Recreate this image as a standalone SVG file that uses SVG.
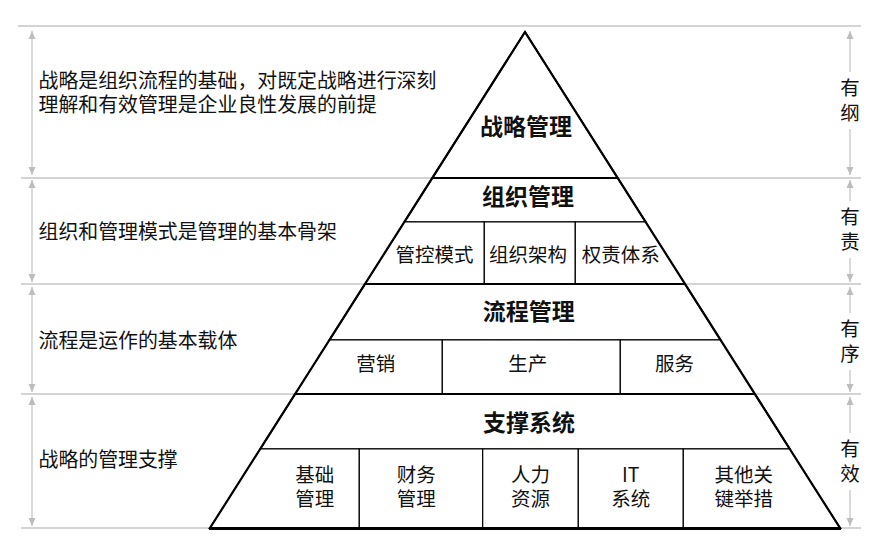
<svg xmlns="http://www.w3.org/2000/svg" width="885" height="559" viewBox="0 0 885 559">
<defs>
<marker id="ah" markerUnits="userSpaceOnUse" markerWidth="8" markerHeight="8" refX="8" refY="4" orient="auto-start-reverse">
<path d="M0,0.5 L8,4 L0,7.5 z" fill="#bdbdbd"/>
</marker>
<style>
text{font-family:"Noto Sans CJK SC","Noto Sans",sans-serif;fill:#111;}
.t{font-size:23px;font-weight:bold;text-anchor:middle;}
.c{font-size:19.5px;text-anchor:middle;}
.l{font-size:19.9px;}
.r{font-size:19.5px;text-anchor:middle;}
.g{stroke:#c6c6c6;stroke-width:1.3;fill:none;}
.a{stroke:#c6c6c6;stroke-width:1.3;fill:none;}
.h{fill:#fff;stroke:#000;stroke-width:1.7;stroke-linejoin:round;}
.cell{fill:#fff;stroke:#000;stroke-width:1.2;}
</style>
</defs>
<rect width="885" height="559" fill="#fff"/>
<g id="guides">
<line class="g" x1="18" y1="26" x2="861" y2="26"/>
<line class="g" x1="21" y1="178" x2="861" y2="178"/>
<line class="g" x1="21" y1="284" x2="861" y2="284"/>
<line class="g" x1="21" y1="394" x2="861" y2="394"/>
<line class="g" x1="21" y1="528" x2="861" y2="528"/>
</g>
<g id="connectors">
<line class="a" x1="32" y1="31" x2="32" y2="175" marker-start="url(#ah)" marker-end="url(#ah)"/>
<line class="a" x1="32" y1="180" x2="32" y2="282" marker-start="url(#ah)" marker-end="url(#ah)"/>
<line class="a" x1="32" y1="287" x2="32" y2="392" marker-start="url(#ah)" marker-end="url(#ah)"/>
<line class="a" x1="32" y1="397" x2="32" y2="526" marker-start="url(#ah)" marker-end="url(#ah)"/>
<line class="a" x1="850" y1="31" x2="850" y2="72" marker-start="url(#ah)"/>
<line class="a" x1="850" y1="129" x2="850" y2="175" marker-end="url(#ah)"/>
<line class="a" x1="850" y1="180" x2="850" y2="201" marker-start="url(#ah)"/>
<line class="a" x1="850" y1="258" x2="850" y2="282" marker-end="url(#ah)"/>
<line class="a" x1="850" y1="287" x2="850" y2="313" marker-start="url(#ah)"/>
<line class="a" x1="850" y1="370" x2="850" y2="392" marker-end="url(#ah)"/>
<line class="a" x1="850" y1="397" x2="850" y2="433" marker-start="url(#ah)"/>
<line class="a" x1="850" y1="490" x2="850" y2="526" marker-end="url(#ah)"/>
</g>
<g id="pyramid">
<g id="tier-strategy">
<polygon class="h" points="525,32 617.7,178 432.3,178"/>
<text class="t" x="526" y="134.6">战略管理</text>
</g>
<g id="tier-org">
<polygon class="h" points="432.3,178 617.7,178 645.7,222 404.3,222"/>
<text class="t" x="528" y="205.3">组织管理</text>
</g>
<g id="cell-org-1">
<polygon class="cell" points="404.3,222 484.3,222 484.3,284 365,284"/>
<text class="c" x="434.5" y="261.9">管控模式</text>
</g>
<g id="cell-org-2">
<polygon class="cell" points="484.3,222 575.3,222 575.3,284 484.3,284"/>
<text class="c" x="528" y="261.9">组织架构</text>
</g>
<g id="cell-org-3">
<polygon class="cell" points="575.3,222 645.7,222 685,284 575.3,284"/>
<text class="c" x="620.7" y="261.9">权责体系</text>
</g>
<g id="tier-process">
<polygon class="h" points="365,284 685,284 720.6,340 329.4,340"/>
<text class="t" x="528.7" y="320">流程管理</text>
</g>
<g id="cell-proc-1">
<polygon class="cell" points="329.4,340 442.3,340 442.3,394 295.1,394"/>
<text class="c" x="375.7" y="371.2">营销</text>
</g>
<g id="cell-proc-2">
<polygon class="cell" points="442.3,340 620.3,340 620.3,394 442.3,394"/>
<text class="c" x="527.8" y="371.2">生产</text>
</g>
<g id="cell-proc-3">
<polygon class="cell" points="620.3,340 720.6,340 754.9,394 620.3,394"/>
<text class="c" x="674.5" y="371.2">服务</text>
</g>
<g id="tier-support">
<polygon class="h" points="295.1,394 754.9,394 789.8,449 260.2,449"/>
<text class="t" x="529" y="430.5">支撑系统</text>
</g>
<g id="cell-sup-1">
<polygon class="cell" points="260.2,449 359.3,449 359.3,528 210,528"/>
<text class="c" x="314.7" y="482.2">基础<tspan x="314.7" y="505.8">管理</tspan></text>
</g>
<g id="cell-sup-2">
<polygon class="cell" points="359.3,449 482.7,449 482.7,528 359.3,528"/>
<text class="c" x="416.3" y="482.2">财务<tspan x="416.3" y="505.8">管理</tspan></text>
</g>
<g id="cell-sup-3">
<polygon class="cell" points="482.7,449 578.3,449 578.3,528 482.7,528"/>
<text class="c" x="530.5" y="482.2">人力<tspan x="530.5" y="505.8">资源</tspan></text>
</g>
<g id="cell-sup-4">
<polygon class="cell" points="578.3,449 683.3,449 683.3,528 578.3,528"/>
<text class="c" x="630.8" y="482.2">IT<tspan x="630.8" y="505.8">系统</tspan></text>
</g>
<g id="cell-sup-5">
<polygon class="cell" points="683.3,449 789.8,449 840,528 683.3,528"/>
<text class="c" x="743.8" y="482.2">其他关<tspan x="743.8" y="505.8">键举措</tspan></text>
</g>
<g id="outline">
<polygon points="525,32 840,528 210,528" fill="none" stroke="#000" stroke-width="2.2" stroke-linejoin="miter"/>
<line x1="209" y1="528.5" x2="841" y2="528.5" stroke="#000" stroke-width="3"/>
<line x1="432.3" y1="178" x2="617.7" y2="178" stroke="#000" stroke-width="1.8"/>
<line x1="365" y1="284" x2="685" y2="284" stroke="#000" stroke-width="1.8"/>
<line x1="295.1" y1="394" x2="754.9" y2="394" stroke="#000" stroke-width="1.8"/>
</g>
</g>
<g id="notes-left">
<text class="l" x="38.5" y="88.2">战略是组织流程的基础，对既定战略进行深刻<tspan x="38.5" y="111.7">理解和有效管理是企业良性发展的前提</tspan></text>
<text class="l" x="38.5" y="238.9">组织和管理模式是管理的基本骨架</text>
<text class="l" x="38.5" y="348.2">流程是运作的基本载体</text>
<text class="l" x="38.5" y="467.2">战略的管理支撑</text>
</g>
<g id="notes-right">
<text class="r" x="850" y="95.2">有<tspan x="850" y="120.2">纲</tspan></text>
<text class="r" x="850" y="224.2">有<tspan x="850" y="249.2">责</tspan></text>
<text class="r" x="850" y="336.2">有<tspan x="850" y="361.2">序</tspan></text>
<text class="r" x="850" y="456.2">有<tspan x="850" y="481.2">效</tspan></text>
</g>
</svg>
